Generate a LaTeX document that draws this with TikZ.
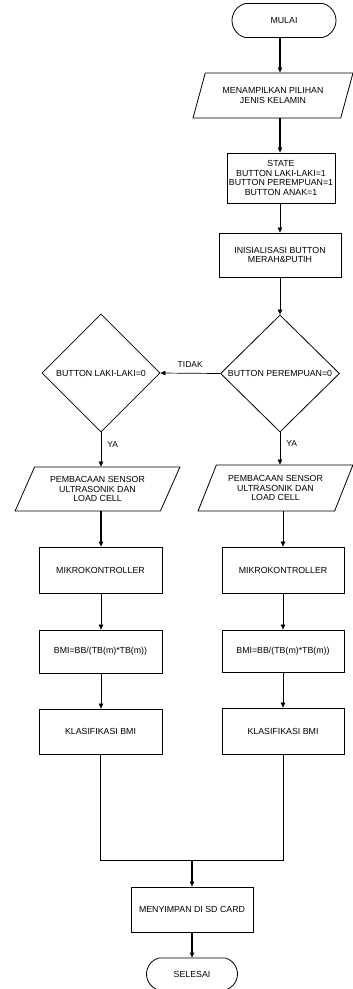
\documentclass[tikz,border=0pt]{standalone}
\usepackage{fontspec}
\setmainfont{Liberation Sans}
\usetikzlibrary{shapes.geometric,shapes.misc,arrows.meta}
\begin{document}
\begin{tikzpicture}[x=1pt,y=-1pt,
  every node/.style={font=\fontsize{8.8}{9.6}\selectfont, align=center, inner sep=0pt},
  procbox/.style={draw, line width=0.8pt, rectangle},
  term/.style={draw, line width=0.8pt, rounded rectangle, rounded rectangle arc length=150},
  io/.style={draw, line width=0.8pt, trapezium, trapezium left angle=60, trapezium right angle=120, trapezium stretches=true},
  decision/.style={draw, line width=0.8pt, diamond},
  arr/.style={line width=0.7pt, -{Triangle[length=5pt,width=4.5pt]}},
  tarr/.style={line width=1.1pt, -{Triangle[length=5pt,width=4.5pt]}},
  ln/.style={line width=0.7pt},
  lbl/.style={font=\fontsize{8.5}{9}\selectfont}
]
\useasboundingbox[fill=white] (0,0) rectangle (353,989);

% main column
\node[term, minimum width=104pt, minimum height=34pt] (mulai) at (284,20.5) {MULAI};
\node[io, minimum width=160pt, minimum height=45pt] (p1) at (273,95.5) {MENAMPILKAN PILIHAN\\JENIS KELAMIN};
\node[procbox, minimum width=108pt, minimum height=50pt] (st) at (281,178) {STATE\\BUTTON LAKI-LAKI=1\\BUTTON PEREMPUAN=1\\BUTTON ANAK=1};
\node[procbox, minimum width=122pt, minimum height=44pt] (ini) at (280,255) {INISIALISASI BUTTON\\MERAH\&PUTIH};
\node[decision, minimum width=119pt, minimum height=117pt] (d1) at (280,373.5) {\makebox[0pt]{BUTTON PEREMPUAN=0}};
\node[decision, minimum width=118pt, minimum height=118pt] (d2) at (101,373) {\makebox[0pt]{BUTTON LAKI-LAKI=0}};

% left column
\node[io, minimum width=165pt, minimum height=44pt] (lp) at (97.5,489) {PEMBACAAN SENSOR\\ULTRASONIK DAN\\LOAD CELL};
\node[procbox, minimum width=123pt, minimum height=46pt] (lm) at (100.5,570) {MIKROKONTROLLER};
\node[procbox, minimum width=123pt, minimum height=43pt] (lb) at (100.5,651.5) {BMI=BB/(TB(m)*TB(m))};
\node[procbox, minimum width=123pt, minimum height=45pt] (lk) at (100.5,731.5) {KLASIFIKASI BMI};

% right column
\node[io, minimum width=155pt, minimum height=46pt] (rp) at (275.5,488) {PEMBACAAN SENSOR\\ULTRASONIK DAN\\LOAD CELL};
\node[procbox, minimum width=122pt, minimum height=46pt] (rm) at (283,570) {MIKROKONTROLLER};
\node[procbox, minimum width=122pt, minimum height=42pt] (rb) at (283,651) {BMI=BB/(TB(m)*TB(m))};
\node[procbox, minimum width=122pt, minimum height=46pt] (rk) at (283,731) {KLASIFIKASI BMI};

% bottom
\node[procbox, minimum width=122pt, minimum height=45pt] (sd) at (192,909.5) {MENYIMPAN DI SD CARD};
\node[term, minimum width=91pt, minimum height=32pt] (sel) at (192,974) {SELESAI};

\coordinate (jl) at (100.5,860);
\coordinate (jr) at (283,860);
\coordinate (jm) at (192,860);

% connectors
\draw[tarr] (mulai.south -| ini.north) -- (p1.north -| ini.north);
\draw[tarr] (p1.south -| ini.north) -- (st.north -| ini.north);
\draw[arr] (st.south -| ini.north) -- (ini.north);
\draw[arr] (ini.south) -- (d1.north);
\draw[arr] (d1.west) -- node[lbl, above=5pt, pos=0.5] (tidak) {TIDAK} (d2.east);
\draw[arr] (d1.south) -- node[lbl, right=6pt, pos=0.35] (ya1) {YA} (d1.south |- rp.north);
\draw[arr] (d2.south) -- node[lbl, right=6pt, pos=0.35] (ya2) {YA} (d2.south |- lp.north);
\draw[tarr] (lp.south -| d2.south) -- (lm.north -| d2.south);
\draw[arr] (lm.south -| d2.south) -- (lb.north -| d2.south);
\draw[arr] (lb.south -| d2.south) -- (lk.north -| d2.south);
\draw[arr] (rp.south -| rm.north) -- (rm.north);
\draw[arr] (rm.south) -- (rb.north);
\draw[arr] (rb.south) -- (rk.north);
\draw[ln] (lk.south -| jl) -- (jl) -- (jr) -- (rk.south);
\draw[tarr] (jm) -- (sd.north);
\draw[tarr] (sd.south) -- (sel.north);
\end{tikzpicture}
\end{document}
